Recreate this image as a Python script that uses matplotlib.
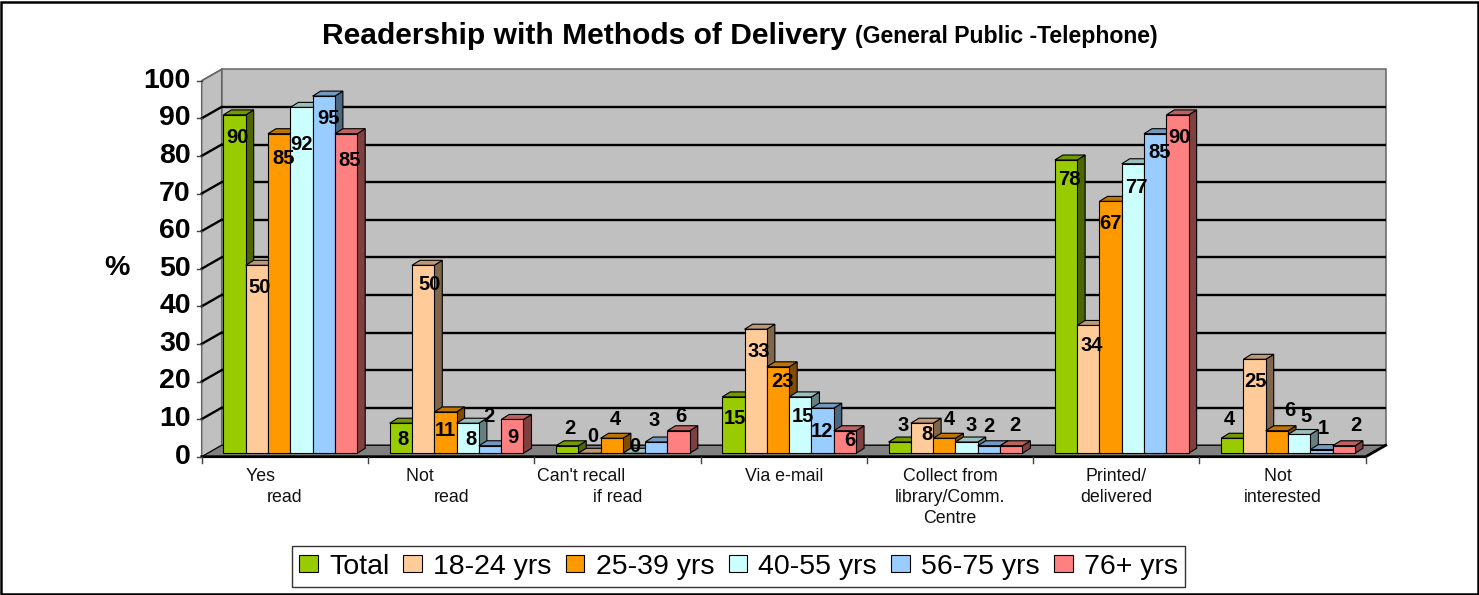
import matplotlib
matplotlib.use("Agg")
import matplotlib.pyplot as plt
from matplotlib.colors import to_rgb
from matplotlib.patches import Patch

plt.rcParams["font.family"] = ["Liberation Sans", "DejaVu Sans"]

# ========== DATA ==========
categories = ["Yes          \nread", "Not             \nread", "Can't recall               \nif read",
              "Via e-mail", "Collect from\nlibrary/Comm.\nCentre", "Printed/\ndelivered",
              "Not  \ninterested"]
series_names = ["Total", "18-24 yrs", "25-39 yrs", "40-55 yrs", "56-75 yrs", "76+ yrs"]
colors = ["#99CC00", "#FFCC99", "#FF9900", "#CCFFFF", "#99CCFF", "#FF8080"]

total = [90, 8, 2, 15, 3, 78, 4]
age_18_24 = [50, 50, 0, 33, 8, 34, 25]
age_25_39 = [85, 11, 4, 23, 4, 67, 6]
age_40_55 = [92, 8, 0, 15, 3, 77, 5]
age_56_75 = [95, 2, 3, 12, 2, 85, 1]
age_76_up = [85, 9, 6, 6, 2, 90, 2]
series = [total, age_18_24, age_25_39, age_40_55, age_56_75, age_76_up]

yticks = list(range(0, 101, 10))

# where the value labels sit (percent height, sideways nudge in px) - excel put them oddly
label_y = [
    [85, 4.7, 7.6, 10.2, 8.4, 73.8, 9.8],
    [44.9, 45.9, 5.5, 28, 5.8, 29.7, 19.9],
    [79.4, 7.1, 10, 19.9, 9.8, 61.9, 12.2],
    [82.9, 4.7, 2.6, 10.6, 8.4, 71.5, 10.8],
    [90, 10.6, 9.5, 6.6, 7.9, 80.8, 7.6],
    [78.9, 5.2, 10.8, 4.4, 8.4, 85, 8.4],
]
label_dx = [
    [3, 2, 3, 2, 3, 3, -3],
    [3, 6, 3, 3, 5, 3, 1],
    [4, 0, 4, 4, 5, 0, 13],
    [0, 3, 1, 3, 5, 3, 7],
    [5, -1, -2, -1, 0, 4, 2],
    [4, 1, 2, 5, 4, 2, 12],
]

# ========== GEOMETRY (px of the 1479x595 picture) ==========
W, H = 1479, 595
left_px, right_px = 201.7, 1365.7
top_px, bottom_px = 80.7, 456.7

fig = plt.figure(figsize=(W / 100, H / 100), dpi=100, facecolor="white")
ax = fig.add_axes([left_px / W, 1 - bottom_px / H, (right_px - left_px) / W, (bottom_px - top_px) / H])
ax.set_xlim(0, 7)
ax.set_ylim(0, 100)
ax.axis("off")

px_x = 7 / (right_px - left_px)
px_y = 100 / (bottom_px - top_px)

wall_dx, wall_dy = 20 * px_x, 11.4 * px_y
bar_dx, bar_dy = 8 * px_x, 5 * px_y
base = 3.4 * px_y
bar_w = 22.3 * px_x
bar_start = 21.7 * px_x
GRID_Z = 2


def shade(col, f):
    r, g, b = to_rgb(col)
    return (r * f, g * f, b * f)


# ========== WALLS AND FLOOR ==========
ax.fill([0, wall_dx, wall_dx, 0], [0, wall_dy, 100 + wall_dy, 100], fc="#C0C0C0", ec="#666666", lw=1.1,
        clip_on=False, zorder=1)
ax.fill([wall_dx, 7 + wall_dx, 7 + wall_dx, wall_dx], [wall_dy, wall_dy, 100 + wall_dy, 100 + wall_dy],
        fc="#C0C0C0", ec="#666666", lw=1.1, clip_on=False, zorder=1)
ax.fill([0, 7, 7 + wall_dx, wall_dx], [0, 0, wall_dy, wall_dy], fc="#808080", ec="black", lw=0.8,
        clip_on=False, zorder=GRID_Z + 1)

for t in yticks[1:]:
    if t < 100:
        ax.plot([wall_dx, 7 + wall_dx], [t + wall_dy, t + wall_dy], color="black", lw=1.7, clip_on=False,
                zorder=GRID_Z, solid_capstyle="butt")
    ax.plot([0, wall_dx], [t, t + wall_dy], color="black" if t < 100 else "#666666", lw=1.7 if t < 100 else 1,
            clip_on=False, zorder=GRID_Z)

# front axis line and ticks
ax.plot([0, 7, 7 + wall_dx], [0, 0, wall_dy], color="black", lw=2, clip_on=False, zorder=GRID_Z + 2)
for t in yticks:
    ax.plot([-5 * px_x, 0], [t, t], color="#404040", lw=1, clip_on=False, zorder=GRID_Z + 2)
    ax.text(-11 * px_x, t, str(t), ha="right", va="center", fontsize=20.5, fontweight="bold", color="black")
for i in range(8):
    ax.plot([i, i], [0, -6 * px_y], color="#404040", lw=1, clip_on=False, zorder=GRID_Z + 2)

# ========== BARS ==========
z = 10
for i in range(len(categories)):
    for j, vals in enumerate(series):
        col = colors[j]
        x0 = i + bar_start + j * bar_w
        v = vals[i]
        ax.bar(x0, v, bar_w, bottom=base, align="edge", color=col, edgecolor="black", linewidth=0.8,
               zorder=z + 2, clip_on=False)
        # right side
        ax.fill([x0 + bar_w, x0 + bar_w + bar_dx, x0 + bar_w + bar_dx, x0 + bar_w],
                [base, base + bar_dy, base + v + bar_dy, base + v],
                fc=shade(col, 0.5), ec="black", lw=0.8, zorder=z + 1, clip_on=False)
        # top
        ax.fill([x0, x0 + bar_w, x0 + bar_w + bar_dx, x0 + bar_dx],
                [base + v, base + v, base + v + bar_dy, base + v + bar_dy],
                fc=shade(col, 0.75), ec="black", lw=0.8, zorder=z + 1, clip_on=False)
        z += 3

# value labels on top of everything
for j, vals in enumerate(series):
    for i, v in enumerate(vals):
        x = i + bar_start + (j + 0.5) * bar_w + label_dx[j][i] * px_x
        ax.text(x, label_y[j][i], str(v), ha="center", va="center", fontsize=14.5, fontweight="bold",
                color="black", zorder=500)

# ========== TEXT ==========
for i, lab in enumerate(categories):
    ax.text(i + 0.5, -11.4 * px_y, lab, ha="center", va="top", fontsize=12.8, color="#111111",
            linespacing=1.3, clip_on=False)

fig.text(322 / W, 1 - 36 / H, "Readership with Methods of Delivery", ha="left", va="center", fontsize=21.6,
         fontweight="bold")
fig.text(855 / W, 1 - 37 / H, "(General Public -Telephone)", ha="left", va="center", fontsize=16.6,
         fontweight="bold")
fig.text(117 / W, 1 - 268 / H, "%", ha="center", va="center", fontsize=20.5, fontweight="bold")

# ========== LEGEND ==========
handles = [Patch(facecolor=c, edgecolor="black", linewidth=0.8, label=n) for c, n in zip(colors, series_names)]
leg = fig.legend(handles=handles, loc="center", bbox_to_anchor=(738.5 / W, 1 - 566.5 / H), ncol=6,
                 frameon=True, fancybox=False, edgecolor="#333333", framealpha=1, fontsize=20.5,
                 handlelength=0.65, handleheight=0.5, handletextpad=0.4, columnspacing=0.5,
                 borderpad=0.26, borderaxespad=0)
leg.get_frame().set_linewidth(1)

# outer border
fig.add_artist(plt.Rectangle((1.2 / W, 1 - 594 / H), 1476.3 / W, 592 / H, transform=fig.transFigure, fill=False,
                             edgecolor="black", linewidth=1.8))

fig.savefig("out.png", dpi=100, facecolor="white")
